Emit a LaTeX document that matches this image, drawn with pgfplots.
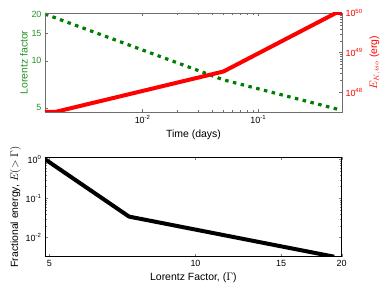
\documentclass[border=0pt]{standalone}
\usepackage{fontspec}
\setmainfont{Liberation Sans}
\usepackage{pgfplots}
\pgfplotsset{compat=1.18}
\definecolor{mygreen}{RGB}{0,125,0}
\definecolor{labgreen}{RGB}{40,145,40}
\definecolor{myred}{RGB}{255,0,0}
\definecolor{framegray}{RGB}{110,110,110}
\begin{document}
\begin{tikzpicture}
\useasboundingbox (0bp,0bp) rectangle (390bp,-294bp);
\pgfplotsset{
  every axis/.append style={scale only axis, tick align=inside,
    label style={font=\fontsize{10.5}{12}\selectfont},
    tick label style={font=\fontsize{9}{10}\selectfont},
    major tick length=3bp, minor tick length=1.8bp,
  }
}
% ---------- top panel, left axis ----------
\begin{axis}[at={(45bp,-13bp)}, anchor=north west, width=297bp, height=99bp,
  xmode=log, ymode=log, xmin=0.00143, xmax=0.53, ymin=4.7, ymax=20.3,
  xtick={0.01,0.1}, xticklabels={10\textsuperscript{-2},10\textsuperscript{-1}},
  ytick={5,10,15,20}, yticklabels={5,10,15,20}, yminorticks=false,
  ytick pos=left,
  axis line style={framegray, line width=0.9pt},
  every tick/.style={framegray},
  xlabel={Time (days)}, ylabel={Lorentz factor},
  ylabel style={labgreen}, yticklabel style={labgreen},
  ylabel shift=-3bp,
  xlabel style={yshift=1bp},
]
\addplot[mygreen, line width=3.2bp, dash pattern=on 3.5bp off 4.5bp] coordinates {
  (0.00143,20) (0.05,7.56) (0.50,4.87)
};
\end{axis}
% ---------- top panel, right axis ----------
\begin{axis}[at={(45bp,-13bp)}, anchor=north west, width=297bp, height=99bp,
  xmode=log, ymode=log, xmin=0.00143, xmax=0.53, ymin=3.2e47, ymax=1e50,
  xtick=\empty, xminorticks=false,
  ytick={1e48,1e49,1e50},
  yticklabels={10\textsuperscript{48},10\textsuperscript{49},10\textsuperscript{50}},
  ytick pos=right, yticklabel pos=right,
  axis line style={framegray, line width=0.9pt},
  every tick/.style={framegray},
  ylabel={$E_{K,iso}$ (erg)},
  ylabel style={myred}, yticklabel style={myred},
]
\addplot[myred, line width=4bp, line join=round] coordinates {
  (0.00143,3.2e47) (0.00175,3.2e47) (0.05,3.35e48) (0.47,1e50) (0.53,1e50)
};
\end{axis}
% ---------- bottom panel ----------
\begin{axis}[at={(45bp,-157.3bp)}, anchor=north west, width=296.7bp, height=99.4bp,
  xmode=log, ymode=log, xmin=4.9, xmax=20, ymin=0.0032, ymax=1.12,
  xtick={5,10,15,20}, xticklabels={5,10,15,20}, xminorticks=false,
  ytick={0.01,0.1,1},
  yticklabels={10\textsuperscript{-2},10\textsuperscript{-1},10\textsuperscript{0}},
  axis line style={black, line width=0.6pt},
  xlabel={Lorentz Factor, ($\Gamma$)},
  ylabel={Fractional energy, $E(>\Gamma)$},
  ylabel shift=-2bp,
]
\addplot[black, line width=4bp, line join=round] coordinates {
  (4.9,1.0) (7.3,0.034) (19.3,0.0032)
};
\end{axis}
\end{tikzpicture}
\end{document}
